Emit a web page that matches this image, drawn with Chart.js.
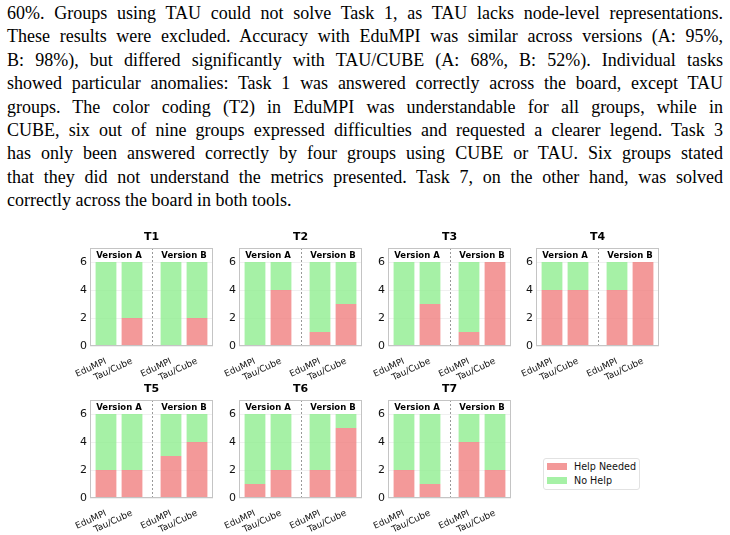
<!DOCTYPE html>
<html>
<head>
<meta charset="utf-8">
<script src="https://cdn.jsdelivr.net/npm/chart.js@4.4.1/dist/chart.umd.min.js"></script>
<style>
  body { margin: 0; background: #fff; width: 730px; height: 535px; position: relative; overflow: hidden; }
  #text { position: absolute; left: 7px; top: 2px; width: 716px; font-family: 'Liberation Serif', 'Times New Roman', serif; font-size: 18px; line-height: 23.4px; color: #000; }
  #text div { text-align: justify; text-align-last: justify; }
  #text div.last { text-align-last: left; }
  canvas { position: absolute; }
  #legend { position: absolute; left: 543px; top: 458px; width: 95px; height: 30px; border: 1px solid #e2e2e2; border-radius: 3px; font-family: 'DejaVu Sans'; font-size: 9.6px; color: #111; }
  #legend .sw { position: absolute; left: 3px; width: 20px; height: 7px; }
  #legend .lb { position: absolute; left: 30px; line-height: 12px; }
</style>
</head>
<body>
<div id="text">
  <div>60%. Groups using TAU could not solve Task 1, as TAU lacks node-level representations.</div>
  <div>These results were excluded. Accuracy with EduMPI was similar across versions (A: 95%,</div>
  <div>B: 98%), but differed significantly with TAU/CUBE (A: 68%, B: 52%). Individual tasks</div>
  <div>showed particular anomalies: Task 1 was answered correctly across the board, except TAU</div>
  <div>groups. The color coding (T2) in EduMPI was understandable for all groups, while in</div>
  <div>CUBE, six out of nine groups expressed difficulties and requested a clearer legend. Task 3</div>
  <div>has only been answered correctly by four groups using CUBE or TAU. Six groups stated</div>
  <div>that they did not understand the metrics presented. Task 7, on the other hand, was solved</div>
  <div class="last">correctly across the board in both tools.</div>
</div>
<div id="legend"></div>
<script>
// data
const tasks = ['T1', 'T2', 'T3', 'T4', 'T5', 'T6', 'T7'];
const toolLabels = ['EduMPI', 'Tau/Cube', 'EduMPI', 'Tau/Cube'];
const barPositions = [0, 1, 2.5, 3.5];
const versionNames = ['Version A', 'Version B'];
const versionCenters = [0.5, 3.0];
const dividerAt = 1.75;
const yTicks = [0, 2, 4, 6];
const seriesNames = ['Help Needed', 'No Help'];

// per task: EduMPI A, Tau/Cube A, EduMPI B, Tau/Cube B
const helpNeeded = [
  [0, 2, 0, 2],
  [0, 4, 1, 3],
  [0, 3, 1, 6],
  [4, 4, 4, 6],
  [2, 2, 3, 4],
  [1, 2, 2, 5],
  [2, 1, 4, 2]
];
const noHelp = [
  [6, 4, 6, 4],
  [6, 2, 5, 3],
  [6, 3, 5, 0],
  [2, 2, 2, 0],
  [4, 4, 3, 2],
  [5, 4, 4, 1],
  [4, 5, 2, 4]
];

const colors = ['rgba(240,128,128,0.8)', 'rgba(144,238,144,0.8)'];

// layout
const plotLefts = [90, 239, 388, 536];
const plotTops = [248, 400];
const Y_W = 30, X_H = 40, TOP = 20, RIGHT = 7, PLOT_W = 123, PLOT_H = 98;

Chart.defaults.font.family = 'DejaVu Sans';
Chart.defaults.color = '#111';

const panelDecor = {
  id: 'panelDecor',
  afterDatasetsDraw(chart, args, opts) {
    const { ctx, chartArea: a, scales: { x, y } } = chart;
    ctx.save();
    // dashed divider
    ctx.strokeStyle = 'rgba(0,0,0,0.4)';
    ctx.lineWidth = 1;
    ctx.setLineDash([2, 2]);
    const dx = Math.round(x.getPixelForValue(dividerAt)) + 0.5;
    ctx.beginPath();
    ctx.moveTo(dx, a.top);
    ctx.lineTo(dx, a.bottom);
    ctx.stroke();
    ctx.setLineDash([]);
    // frame
    ctx.strokeStyle = '#c4c4c4';
    ctx.strokeRect(a.left + 0.5, a.top + 0.5, a.right - a.left - 1, a.bottom - a.top - 1);
    // version labels
    ctx.fillStyle = '#000';
    ctx.font = 'bold 8.5px "DejaVu Sans"';
    ctx.textAlign = 'center';
    ctx.textBaseline = 'middle';
    versionNames.forEach((v, i) => {
      ctx.fillText(v, x.getPixelForValue(versionCenters[i]), a.top + 8);
    });
    // title
    ctx.font = 'bold 11px "DejaVu Sans"';
    ctx.fillText(opts.title, (a.left + a.right) / 2, a.top - 11);
    ctx.restore();
  }
};

tasks.forEach((task, t) => {
  const row = Math.floor(t / 4), col = t % 4;
  const canvas = document.createElement('canvas');
  canvas.width = Y_W + PLOT_W + RIGHT;
  canvas.height = TOP + PLOT_H + X_H;
  canvas.style.left = (plotLefts[col] - Y_W) + 'px';
  canvas.style.top = (plotTops[row] - TOP) + 'px';
  document.body.appendChild(canvas);

  const series = [helpNeeded[t], noHelp[t]];
  new Chart(canvas.getContext('2d'), {
    type: 'bar',
    data: {
      datasets: series.map((vals, s) => ({
        label: seriesNames[s],
        data: vals.map((v, i) => ({ x: barPositions[i], y: v })),
        backgroundColor: colors[s],
        borderWidth: 0,
        categoryPercentage: 0.8,
        barPercentage: 1
      }))
    },
    options: {
      responsive: false,
      animation: false,
      devicePixelRatio: 1,
      layout: { padding: { top: TOP, right: RIGHT, left: 0, bottom: 0 } },
      plugins: {
        legend: { display: false },
        tooltip: { enabled: false },
        panelDecor: { title: task }
      },
      scales: {
        x: {
          type: 'linear',
          stacked: true,
          offset: false,
          min: -0.615,
          max: 4.115,
          afterBuildTicks: s => { s.ticks = barPositions.map(v => ({ value: v })); },
          afterFit: s => { s.height = X_H; },
          grid: { display: false, offset: false },
          border: { display: false },
          ticks: {
            autoSkip: false,
            minRotation: 25,
            maxRotation: 25,
            padding: 2,
            font: { size: 9 },
            callback: v => toolLabels[barPositions.indexOf(v)]
          }
        },
        y: {
          stacked: true,
          min: 0,
          max: 7,
          afterBuildTicks: s => { s.ticks = yTicks.map(v => ({ value: v })); },
          afterFit: s => { s.width = Y_W; },
          grid: { color: 'rgba(0,0,0,0.06)', drawTicks: false },
          border: { display: false },
          ticks: { padding: 3, font: { size: 11 } }
        }
      }
    },
    plugins: [panelDecor]
  });
});

// legend
const legend = document.getElementById('legend');
seriesNames.forEach((name, s) => {
  const sw = document.createElement('div');
  sw.className = 'sw';
  sw.style.top = (4 + s * 14) + 'px';
  sw.style.background = colors[s];
  const lb = document.createElement('div');
  lb.className = 'lb';
  lb.style.top = (1.5 + s * 14) + 'px';
  lb.textContent = name;
  legend.appendChild(sw);
  legend.appendChild(lb);
});
</script>
</body>
</html>
